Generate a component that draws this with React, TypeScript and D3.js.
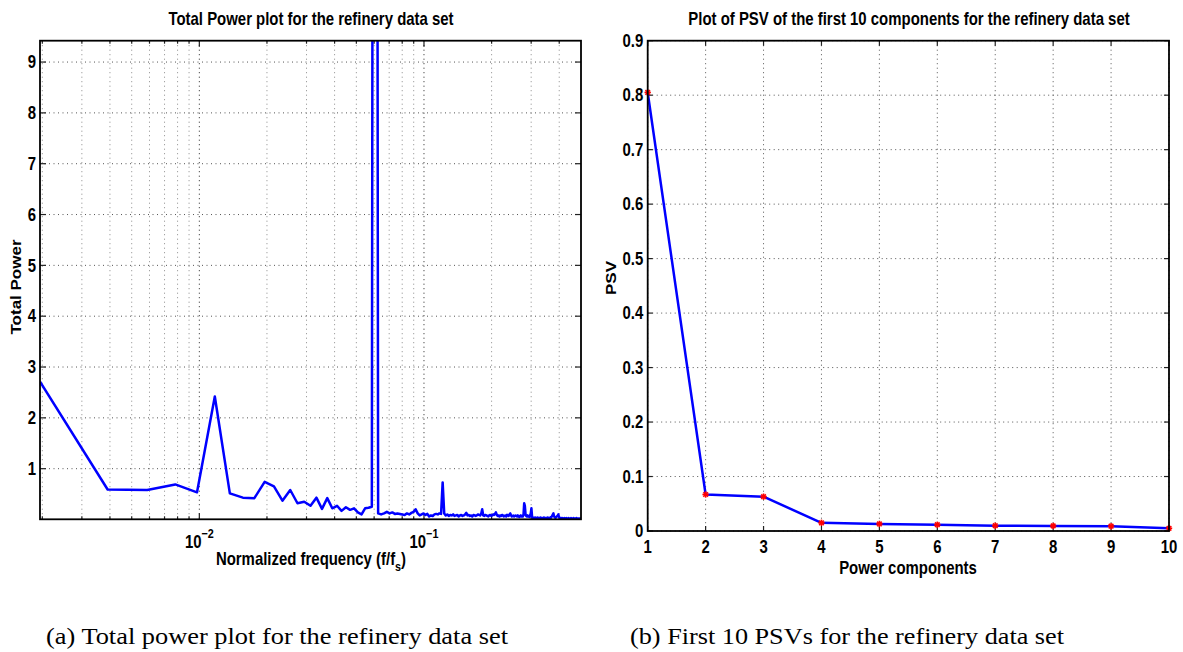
import React from "react";
import * as d3 from "d3";

// Total power per frequency bin (bins k = 1..256, f = k/512)
const totalPower: number[] = [
  2.71, 0.59, 0.58, 0.69, 0.535, 2.42, 0.515, 0.43, 0.42, 0.74,
  0.65, 0.37, 0.58, 0.32, 0.35, 0.27, 0.43, 0.21, 0.42, 0.22,
  0.27, 0.17, 0.24, 0.19, 0.22, 0.14, 0.10, 0.22, 0.23, 0.25,
  52.0, 0.12, 0.10, 0.12, 0.15, 0.12, 0.14, 0.11, 0.12, 0.11,
  0.10, 0.09, 0.12, 0.10, 0.13, 0.15, 0.20, 0.12, 0.08, 0.10,
  0.12, 0.09, 0.11, 0.06, 0.08, 0.07, 0.10, 0.11, 0.10, 0.12,
  0.11, 0.73, 0.12, 0.08, 0.10, 0.07, 0.09, 0.08, 0.10, 0.07,
  0.08, 0.09, 0.06, 0.08, 0.09, 0.07, 0.08, 0.10, 0.13, 0.08,
  0.09, 0.07, 0.08, 0.06, 0.09, 0.08, 0.07, 0.08, 0.10, 0.09,
  0.08, 0.11, 0.20, 0.08, 0.07, 0.09, 0.08, 0.07, 0.06, 0.08,
  0.09, 0.07, 0.08, 0.10, 0.09, 0.11, 0.14, 0.09, 0.07, 0.08,
  0.06, 0.08, 0.07, 0.09, 0.08, 0.06, 0.07, 0.08, 0.06, 0.09,
  0.08, 0.07, 0.10, 0.12, 0.08, 0.06, 0.07, 0.08, 0.06, 0.07,
  0.08, 0.07, 0.06, 0.08, 0.07, 0.05, 0.07, 0.08, 0.06, 0.07,
  0.06, 0.09, 0.32, 0.27, 0.10, 0.07, 0.06, 0.08, 0.06, 0.07,
  0.05, 0.08, 0.12, 0.22, 0.06, 0.03, 0.04, 0.03, 0.03, 0.04,
  0.03, 0.02, 0.03, 0.04, 0.03, 0.03, 0.02, 0.03, 0.04, 0.03,
  0.03, 0.02, 0.03, 0.03, 0.04, 0.03, 0.02, 0.03, 0.03, 0.02,
  0.03, 0.04, 0.03, 0.03, 0.02, 0.03, 0.04, 0.03, 0.05, 0.06,
  0.08, 0.10, 0.12, 0.07, 0.05, 0.04, 0.03, 0.04, 0.05, 0.06,
  0.07, 0.08, 0.10, 0.06, 0.04, 0.03, 0.02, 0.02, 0.03, 0.02,
  0.02, 0.03, 0.02, 0.02, 0.02, 0.03, 0.02, 0.02, 0.02, 0.03,
  0.02, 0.02, 0.02, 0.02, 0.03, 0.02, 0.02, 0.02, 0.02, 0.02,
  0.03, 0.02, 0.02, 0.02, 0.02, 0.02, 0.03, 0.02, 0.02, 0.02,
  0.02, 0.02, 0.02, 0.03, 0.02, 0.02, 0.02, 0.02, 0.02, 0.02,
  0.02, 0.02, 0.02, 0.02, 0.02, 0.02,
];
const FFT_BINS = 512;
const frequencies = totalPower.map((_, i) => (i + 1) / FFT_BINS);

const powerYTicks = [1, 2, 3, 4, 5, 6, 7, 8, 9];
const freqMajorTicks = [0.01, 0.1];
const freqMajorLabels = ["\u22122", "\u22121"];

// Power singular values of the first ten components
const components = [1, 2, 3, 4, 5, 6, 7, 8, 9, 10];
const psv = [0.805, 0.067, 0.063, 0.015, 0.013, 0.0115, 0.0097, 0.0094, 0.0088, 0.005];
const psvYTicks = [0, 0.1, 0.2, 0.3, 0.4, 0.5, 0.6, 0.7, 0.8, 0.9];

const titleLeft = "Total Power plot for the refinery data set";
const titleRight = "Plot of PSV of the first 10 components for the refinery data set";
const captionLeft = "(a) Total power plot for the refinery data set";
const captionRight = "(b) First 10 PSVs for the refinery data set";

const FONT = "'Liberation Sans', Arial, Helvetica, sans-serif";
const SQUEEZE = 0.83;
const BLUE = "#0000ff";

type LabelProps = {
  x: number;
  y: number;
  anchor?: "start" | "middle" | "end";
  size?: number;
  rotate?: boolean;
  children: React.ReactNode;
};

function Label({ x, y, anchor = "middle", size = 18, rotate = false, children }: LabelProps) {
  return (
    <g transform={`translate(${x},${y}) scale(${SQUEEZE},1)${rotate ? " rotate(-90)" : ""}`}>
      <text
        textAnchor={anchor}
        fontFamily={FONT}
        fontWeight="bold"
        fontSize={size}
        fill="#000"
      >
        {children}
      </text>
    </g>
  );
}

function Asterisk({ x, y }: { x: number; y: number }) {
  const r = 3.2;
  const d = r * 0.72;
  return (
    <g stroke="#ff0000" strokeWidth={1.6}>
      <line x1={x - r} y1={y} x2={x + r} y2={y} />
      <line x1={x} y1={y - r} x2={x} y2={y + r} />
      <line x1={x - d} y1={y - d} x2={x + d} y2={y + d} />
      <line x1={x - d} y1={y + d} x2={x + d} y2={y - d} />
    </g>
  );
}

function PowerPlot() {
  const left = 40, right = 581, top = 40.7, bottom = 519.3;
  const x = d3.scaleLog().domain([1 / FFT_BINS, 0.5]).range([left, right]);
  const y = d3.scaleLinear().domain([0.004, 9.42]).range([bottom, top]);

  const minor: number[] = [];
  for (const dec of [0.001, 0.01, 0.1]) {
    for (let m = 2; m <= 9; m++) {
      const v = dec * m;
      if (v > 1 / FFT_BINS && v < 0.5) minor.push(v);
    }
  }

  const line = d3
    .line<number>()
    .x((_, i) => x(frequencies[i]))
    .y((d) => y(d));

  return (
    <g>
      <defs>
        <clipPath id="clip-power">
          <rect x={left} y={top} width={right - left} height={bottom - top} />
        </clipPath>
      </defs>
      {/* grid */}
      <g strokeWidth={1} strokeDasharray="1 3.5" fill="none">
        {minor.map((v) => (
          <line key={`mg${v}`} x1={x(v)} x2={x(v)} y1={top} y2={bottom} stroke="#8a8a8a" />
        ))}
        {freqMajorTicks.map((v) => (
          <line key={`Mg${v}`} x1={x(v)} x2={x(v)} y1={top} y2={bottom} stroke="#222" />
        ))}
        {powerYTicks.map((v) => (
          <line key={`yg${v}`} x1={left} x2={right} y1={y(v)} y2={y(v)} stroke="#555" />
        ))}
      </g>
      {/* ticks */}
      <g stroke="#222" strokeWidth={1.2}>
        {minor.map((v) => (
          <g key={`mt${v}`}>
            <line x1={x(v)} x2={x(v)} y1={bottom} y2={bottom - 3} />
            <line x1={x(v)} x2={x(v)} y1={top} y2={top + 3} />
          </g>
        ))}
        {freqMajorTicks.map((v) => (
          <g key={`Mt${v}`}>
            <line x1={x(v)} x2={x(v)} y1={bottom} y2={bottom - 6} />
            <line x1={x(v)} x2={x(v)} y1={top} y2={top + 6} />
          </g>
        ))}
        {powerYTicks.map((v) => (
          <g key={`yt${v}`}>
            <line x1={left} x2={left + 6} y1={y(v)} y2={y(v)} />
            <line x1={right} x2={right - 6} y1={y(v)} y2={y(v)} />
          </g>
        ))}
      </g>
      {/* data */}
      <path
        d={line(totalPower) ?? ""}
        fill="none"
        stroke={BLUE}
        strokeWidth={2.5}
        strokeLinejoin="round"
        clipPath="url(#clip-power)"
      />
      {/* frame */}
      <rect x={left} y={top} width={right - left} height={bottom - top} fill="none" stroke="#000" strokeWidth={1.8} />
      {/* tick labels */}
      {powerYTicks.map((v) => (
        <Label key={`yl${v}`} x={left - 4} y={y(v) + 6.3} anchor="end">
          {v}
        </Label>
      ))}
      {freqMajorTicks.map((v, i) => (
        <Label key={`xl${v}`} x={x(v)} y={548}>
          <tspan>10</tspan>
          <tspan dy={-10} fontSize={13}>
            {freqMajorLabels[i]}
          </tspan>
        </Label>
      ))}
      <Label x={311} y={565}>
        <tspan>Normalized frequency (f/f</tspan>
        <tspan dy={6} fontSize={13}>
          s
        </tspan>
        <tspan dy={-6}>)</tspan>
      </Label>
      <Label x={20.7} y={287} size={17} rotate>
        Total Power
      </Label>
      <Label x={311} y={25}>
        {titleLeft}
      </Label>
    </g>
  );
}

function PsvPlot() {
  const left = 647.7, right = 1169, top = 40.7, bottom = 531;
  const x = d3.scaleLinear().domain([1, 10]).range([left, right]);
  const y = d3.scaleLinear().domain([0, 0.9]).range([bottom, top]);
  const line = d3
    .line<number>()
    .x((_, i) => x(components[i]))
    .y((d) => y(d));

  return (
    <g>
      <g strokeWidth={1} strokeDasharray="1 3.5" fill="none" stroke="#555">
        {components.map((c) => (
          <line key={`xg${c}`} x1={x(c)} x2={x(c)} y1={top} y2={bottom} />
        ))}
        {psvYTicks.map((v) => (
          <line key={`yg${v}`} x1={left} x2={right} y1={y(v)} y2={y(v)} />
        ))}
      </g>
      <g stroke="#222" strokeWidth={1.2}>
        {components.map((c) => (
          <g key={`xt${c}`}>
            <line x1={x(c)} x2={x(c)} y1={bottom} y2={bottom - 5} />
            <line x1={x(c)} x2={x(c)} y1={top} y2={top + 5} />
          </g>
        ))}
        {psvYTicks.map((v) => (
          <g key={`yt${v}`}>
            <line x1={left} x2={left + 5} y1={y(v)} y2={y(v)} />
            <line x1={right} x2={right - 5} y1={y(v)} y2={y(v)} />
          </g>
        ))}
      </g>
      <path
        d={line(psv) ?? ""}
        fill="none"
        stroke={BLUE}
        strokeWidth={2.5}
        strokeLinejoin="round"
      />
      {psv.map((v, i) => (
        <Asterisk key={`m${i}`} x={x(components[i])} y={y(v)} />
      ))}
      <rect x={left} y={top} width={right - left} height={bottom - top} fill="none" stroke="#000" strokeWidth={1.8} />
      {psvYTicks.map((v) => (
        <Label key={`yl${v}`} x={left - 4.5} y={y(v) + 6.3} anchor="end">
          {v === 0 ? "0" : v.toFixed(1)}
        </Label>
      ))}
      {components.map((c) => (
        <Label key={`xl${c}`} x={x(c)} y={553}>
          {c}
        </Label>
      ))}
      <Label x={908} y={574}>
        Power components
      </Label>
      <Label x={616} y={278} size={17} rotate>
        PSV
      </Label>
      <Label x={909} y={25}>
        {titleRight}
      </Label>
    </g>
  );
}

export default function App() {
  return (
    <svg
      width={1183}
      height={652}
      viewBox="0 0 1183 652"
      style={{ position: "absolute", left: 0, top: 0, background: "#fff" }}
    >
      <rect x={0} y={0} width={1183} height={652} fill="#fff" />
      <PowerPlot />
      <PsvPlot />
      <text
        x={46}
        y={643.7}
        fontFamily="'Liberation Serif', 'Times New Roman', serif"
        fontSize={23.5}
        textLength={462}
        lengthAdjust="spacingAndGlyphs"
        fill="#000"
      >
        {captionLeft}
      </text>
      <text
        x={630}
        y={643.7}
        fontFamily="'Liberation Serif', 'Times New Roman', serif"
        fontSize={23.5}
        textLength={434}
        lengthAdjust="spacingAndGlyphs"
        fill="#000"
      >
        {captionRight}
      </text>
    </svg>
  );
}
